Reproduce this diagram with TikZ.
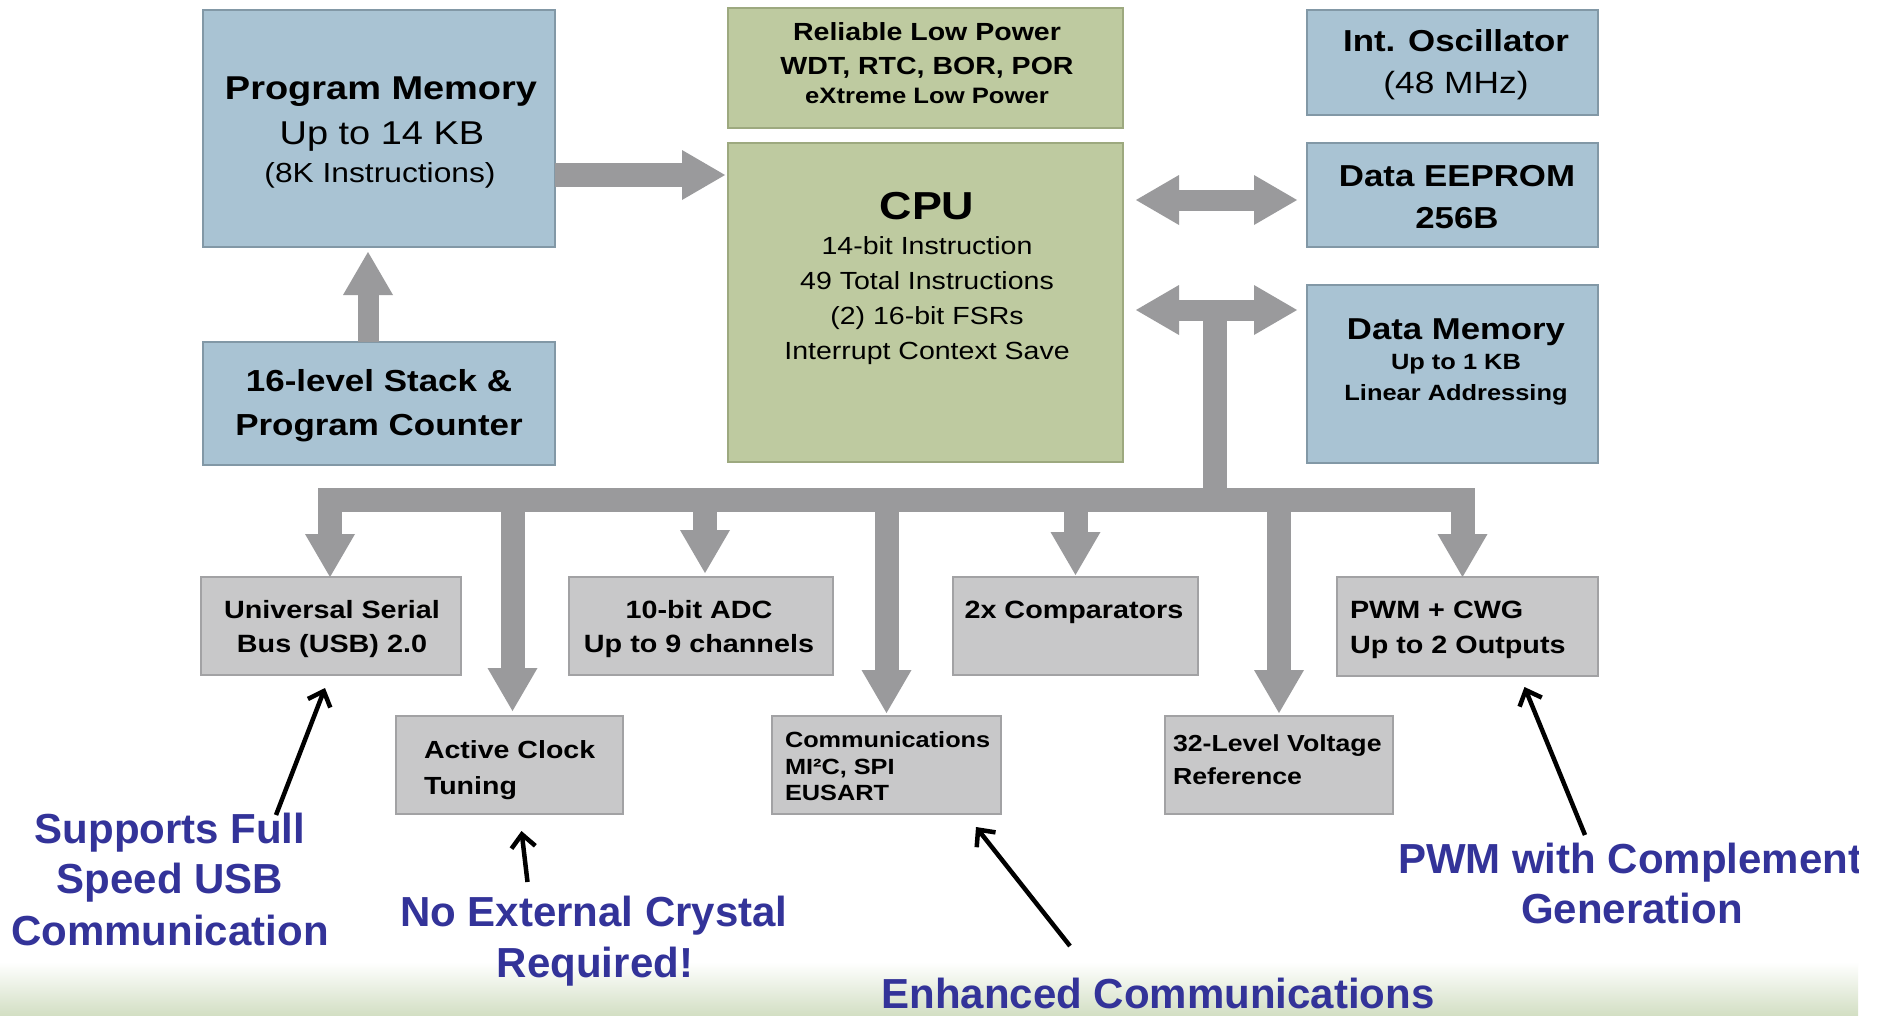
\documentclass[tikz,border=0pt]{standalone}
\usepackage{fontspec}
\setmainfont{Liberation Sans}
\newfontfamily\boxfont{Liberation Sans}[FakeStretch=1.15]
\usetikzlibrary{arrows.meta,calc}

\definecolor{bluefill}{HTML}{A9C3D3}
\definecolor{blueedge}{HTML}{8298A6}
\definecolor{greenfill}{HTML}{BECAA0}
\definecolor{greenedge}{HTML}{9DA97F}
\definecolor{grayfill}{HTML}{C8C8C9}
\definecolor{grayedge}{HTML}{A2A2A4}
\definecolor{busgray}{HTML}{9A9A9C}
\definecolor{noteblue}{HTML}{333399}
\definecolor{footgreen}{HTML}{D3DFC4}
\newcommand\fs[1]{\fontsize{#1}{#1}\selectfont}

\begin{document}
\begin{tikzpicture}[x=1pt,y=-1pt,
  box/.style={rectangle, inner sep=0pt, outer sep=0pt, line width=2pt},
  bluebox/.style={box, fill=bluefill, draw=blueedge},
  greenbox/.style={box, fill=greenfill, draw=greenedge},
  graybox/.style={box, fill=grayfill, draw=grayedge},
  lbl/.style={inner sep=0pt, outer sep=0pt, anchor=base, text=black},
  lbll/.style={lbl, anchor=base west},
  bb/.style={font=\boxfont\bfseries\fs{#1}},
  br/.style={font=\boxfont\fs{#1}},
  note/.style={inner sep=0pt, outer sep=0pt, anchor=base, text=noteblue, font=\bfseries\fs{42}},
  bigtip/.tip={Triangle[line width=0pt, width=50pt, length=43pt]},
  flow/.style={draw=busgray, line width=24pt, line join=miter, arrows={-bigtip}},
  bar/.style={draw=busgray, line width=24pt},
  dflow/.style={draw=busgray, line width=21pt, arrows={bigtip-bigtip}},
  callout/.style={draw=black, line width=4.5pt, arrows={-Straight Barb[length=13pt,width=24pt]}}
]
\useasboundingbox (0,0) rectangle (1880,1015);
\fill[white] (0,0) rectangle (1880,1015);

\begin{scope}
\clip (0,0) rectangle (1858,1015);
% footer band
\shade[top color=white, bottom color=footgreen] (0,962) rectangle (1858,1015);

% ---- blocks ----
\node[bluebox, minimum width=352pt, minimum height=237pt] (pm) at (379,128.5) {};
\node[bluebox, minimum width=352pt, minimum height=123pt] (stk) at (379,403.5) {};
\node[greenbox, minimum width=395pt, minimum height=120pt] (rlp) at (925.5,68) {};
\node[greenbox, minimum width=395pt, minimum height=319pt] (cpu) at (925.5,302.5) {};
\node[bluebox, minimum width=291pt, minimum height=105pt] (osc) at (1452.5,62.5) {};
\node[bluebox, minimum width=291pt, minimum height=104pt] (eep) at (1452.5,195) {};
\node[bluebox, minimum width=291pt, minimum height=178pt] (dmem) at (1452.5,374) {};
\node[graybox, minimum width=260pt, minimum height=98pt] (usb) at (331,626) {};
\node[graybox, minimum width=264pt, minimum height=98pt] (adc) at (701,626) {};
\node[graybox, minimum width=245pt, minimum height=98pt] (cmp) at (1075.5,626) {};
\node[graybox, minimum width=261pt, minimum height=99pt] (pwm) at (1467.5,626.5) {};
\node[graybox, minimum width=227pt, minimum height=98pt] (clk) at (509.5,765) {};
\node[graybox, minimum width=229pt, minimum height=98pt] (com) at (886.5,765) {};
\node[graybox, minimum width=228pt, minimum height=98pt] (vref) at (1279,765) {};

% ---- block texts ----
\node[lbl, bb=33] (pmA) at (381,99) {Program Memory};
\node[lbl, br=33] (pmB) at (382,144) {Up to 14 KB};
\node[lbl, br=27.6] (pmC) at (380,182) {(8K Instructions)};

\node[lbl, bb=30.4] (stkA) at (379,391) {16-level Stack \&};
\node[lbl, bb=30.4] (stkB) at (379,435) {Program Counter};

\node[lbl, bb=24.8] (rlpA) at (927,40) {Reliable Low Power};
\node[lbl, bb=24.8] (rlpB) at (927,74) {WDT, RTC, BOR, POR};
\node[lbl, bb=22.3] (rlpC) at (927,103) {eXtreme Low Power};

\node[lbl, bb=39] (cpuA) at (927,219) {CPU};
\node[lbl, br=24.8] (cpuB) at (927,254) {14-bit Instruction};
\node[lbl, br=24.8] (cpuC) at (927,289) {49 Total Instructions};
\node[lbl, br=24.8] (cpuD) at (927,324) {(2) 16-bit FSRs};
\node[lbl, br=24.8] (cpuE) at (927,359) {Interrupt Context Save};

\node[lbl, bb=30.3] (oscA) at (1456,51) {Int. Oscillator};
\node[lbl, br=30.7] (oscB) at (1456,93) {(48 MHz)};

\node[lbl, bb=30.3] (eepA) at (1457,186) {Data EEPROM};
\node[lbl, bb=30.3] (eepB) at (1457,228) {256B};

\node[lbl, bb=30.2] (dmA) at (1456,339) {Data Memory};
\node[lbl, bb=22.1] (dmB) at (1456,369) {Up to 1 KB};
\node[lbl, bb=22.1] (dmC) at (1456,400) {Linear Addressing};

\node[lbl, bb=25] (usbA) at (332,618) {Universal Serial};
\node[lbl, bb=25] (usbB) at (332,652) {Bus (USB) 2.0};

\node[lbl, bb=25] (adcA) at (699,618) {10-bit ADC};
\node[lbl, bb=25] (adcB) at (699,652) {Up to 9 channels};

\node[lbl, bb=25] (cmpA) at (1074,618) {2x Comparators};

\node[lbll, bb=25] (pwmA) at (1350,618) {PWM + CWG};
\node[lbll, bb=25] (pwmB) at (1350,653) {Up to 2 Outputs};

\node[lbll, bb=24.8] (clkA) at (424,758) {Active Clock};
\node[lbll, bb=24.8] (clkB) at (424,794) {Tuning};

\node[lbll, bb=22] (comA) at (785,747) {Communications};
\node[lbll, bb=22] (comB) at (785,774) {MI²C, SPI};
\node[lbll, bb=22] (comC) at (785,800) {EUSART};

\node[lbll, bb=23.2] (vrA) at (1173,751) {32-Level Voltage};
\node[lbll, bb=23.2] (vrB) at (1173,784) {Reference};

% ---- data paths ----
\coordinate (pmOut) at ([yshift=-46.5pt]pm.east);
\draw[flow, shorten >=3pt] (pmOut) -- (pmOut -| cpu.west);

\coordinate (stkOut) at ([xshift=-11pt]stk.north);
\draw[flow, line width=21pt, shorten >=5pt] (stkOut) -- (stkOut |- pm.south);

\coordinate (eepIn) at ([yshift=-5pt]eep.west);
\draw[dflow, shorten <=13pt, shorten >=10pt] (eepIn -| cpu.east) -- (eepIn);

\coordinate (dmIn) at ([yshift=64pt]dmem.west);
\draw[dflow, shorten <=13pt, shorten >=10pt] (dmIn -| cpu.east) -- (dmIn);

% peripheral bus
\coordinate (bus) at (0,500);
\coordinate (stemTop) at ($(dmIn -| cpu.east)!0.5!(dmIn)$);
\draw[bar] (stemTop) -- (stemTop |- bus);

\coordinate (usbIn) at ([xshift=-1pt]usb.north);
\coordinate (pwmIn) at ([xshift=-5pt]pwm.north);
\draw[flow, arrows={bigtip-bigtip}] (usbIn) -- (usbIn |- bus) -- (pwmIn |- bus) -- (pwmIn);

\coordinate (adcIn) at ([xshift=4pt]adc.north);
\coordinate (clkIn) at ([xshift=3pt]clk.north);
\draw[flow, shorten >=4pt] (adcIn |- bus) -- (adcIn);
\draw[flow, shorten >=2pt] (cmp.north |- bus) -- (cmp.north);
\draw[flow, shorten >=5pt] (clkIn |- bus) -- (clkIn);
\draw[flow, shorten >=3pt] (com.north |- bus) -- (com.north);
\draw[flow, shorten >=3pt] (vref.north |- bus) -- (vref.north);

% ---- feature notes ----
\node[note] (nUsbA) at (170,843) {Supports Full};
\node[note] (nUsbB) at (170,893) {Speed USB};
\node[note] (nUsbC) at (170,945) {Communication};
\node[note] (nClkA) at (594,926) {No External Crystal};
\node[note] (nClkB) at (595,977) {Required!};
\node[note] (nCom) at (1158,1008) {Enhanced Communications};
\node[note, anchor=base west] (nPwmA) at (1398,873) {PWM with Complement};
\node[note] (nPwmB) at (1632,923) {Generation};

\coordinate (usbTail) at (276,815);
\coordinate (usbTip) at ([xshift=-6pt,yshift=-13pt]usb.south);
\coordinate (clkTail) at (527.5,882);
\coordinate (clkTip) at ([xshift=12pt,yshift=-17pt]clk.south);
\coordinate (comTail) at (1070,946);
\coordinate (comTip) at ([xshift=89.5pt,yshift=-13pt]com.south);
\coordinate (pwmTail) at (1585,835);
\coordinate (pwmTip) at ([xshift=57pt,yshift=-11pt]pwm.south);
\draw[callout] (usbTail) -- (usbTip);
\draw[callout] (clkTail) -- (clkTip);
\draw[callout] (comTail) -- (comTip);
\draw[callout] (pwmTail) -- (pwmTip);
\end{scope}
\end{tikzpicture}
\end{document}
